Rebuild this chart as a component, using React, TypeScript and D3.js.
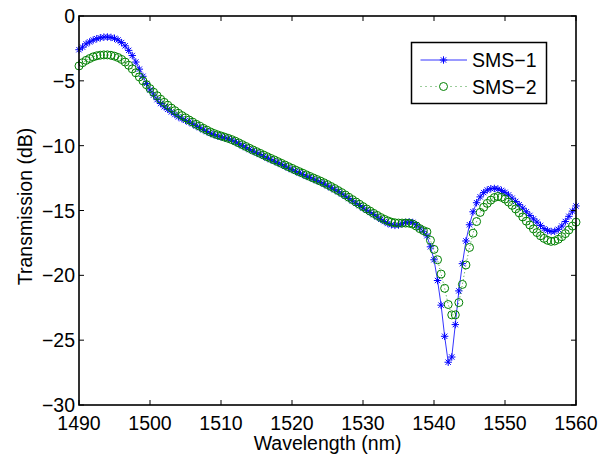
import React from "react";
import * as d3 from "d3";

const wavelengths: number[] = d3.range(1490, 1560.001, 0.5);

const sms1: number[] = [
  -2.60, -2.40, -2.15, -2.00, -1.85, -1.75, -1.68, -1.63, -1.62, -1.65,
  -1.72, -1.85, -2.05, -2.30, -2.65, -3.05, -3.55, -4.10, -4.65, -5.20,
  -5.70, -6.10, -6.45, -6.75, -7.00, -7.20, -7.40, -7.60, -7.78, -7.92,
  -8.05, -8.18, -8.32, -8.48, -8.62, -8.78, -8.92, -9.05, -9.15, -9.25,
  -9.32, -9.40, -9.48, -9.58, -9.70, -9.85, -10.00, -10.15, -10.30, -10.42,
  -10.55, -10.68, -10.82, -10.95, -11.08, -11.20, -11.32, -11.45, -11.58, -11.72,
  -11.85, -11.98, -12.10, -12.22, -12.35, -12.45, -12.58, -12.70, -12.82, -12.95,
  -13.10, -13.25, -13.40, -13.55, -13.72, -13.90, -14.08, -14.25, -14.45, -14.62,
  -14.80, -14.98, -15.15, -15.32, -15.50, -15.68, -15.85, -16.00, -16.10, -16.15,
  -16.12, -16.02, -15.92, -15.88, -15.92, -16.10, -16.35, -16.60, -16.95, -17.80,
  -18.80, -20.40, -22.30, -24.70, -26.70, -26.30, -23.80, -21.20, -19.10, -17.35,
  -16.10, -15.10, -14.40, -13.95, -13.62, -13.42, -13.32, -13.30, -13.34, -13.45,
  -13.60, -13.80, -14.05, -14.30, -14.55, -14.82, -15.10, -15.38, -15.65, -15.90,
  -16.15, -16.40, -16.55, -16.62, -16.60, -16.45, -16.20, -15.85, -15.45, -15.05,
  -14.65,
];

const sms2: number[] = [
  -3.85, -3.60, -3.42, -3.28, -3.15, -3.07, -3.02, -3.00, -3.00, -3.03,
  -3.10, -3.20, -3.35, -3.55, -3.80, -4.08, -4.38, -4.70, -5.00, -5.30,
  -5.60, -5.88, -6.15, -6.42, -6.66, -6.88, -7.10, -7.30, -7.50, -7.68,
  -7.85, -8.02, -8.18, -8.35, -8.50, -8.66, -8.80, -8.94, -9.06, -9.16,
  -9.25, -9.34, -9.43, -9.53, -9.65, -9.78, -9.92, -10.06, -10.20, -10.33,
  -10.46, -10.59, -10.72, -10.85, -10.98, -11.10, -11.23, -11.36, -11.49, -11.62,
  -11.75, -11.88, -12.00, -12.12, -12.25, -12.37, -12.49, -12.61, -12.73, -12.86,
  -13.00, -13.15, -13.30, -13.46, -13.62, -13.80, -13.98, -14.16, -14.34, -14.52,
  -14.70, -14.88, -15.05, -15.22, -15.38, -15.54, -15.68, -15.80, -15.90, -15.95,
  -15.97, -15.97, -15.97, -15.98, -16.05, -16.20, -16.40, -16.55, -16.65, -17.30,
  -18.00, -18.80, -19.90, -21.00, -22.25, -23.05, -23.05, -22.10, -20.70, -19.20,
  -17.85, -16.75, -15.85, -15.15, -14.75, -14.45, -14.20, -14.00, -13.92, -13.98,
  -14.12, -14.35, -14.60, -14.88, -15.18, -15.50, -15.82, -16.12, -16.42, -16.70,
  -16.95, -17.15, -17.30, -17.38, -17.35, -17.22, -17.02, -16.78, -16.50, -16.20,
  -15.90,
];

const xTicks: number[] = [1490, 1500, 1510, 1520, 1530, 1540, 1550, 1560];
const yTicks: number[] = [0, -5, -10, -15, -20, -25, -30];
const seriesNames: string[] = ["SMS\u22121", "SMS\u22122"];

const W = 602;
const H = 456;
const M = { left: 79, right: 576, top: 16, bottom: 405 };
const FONT = "'Liberation Sans', Arial, Helvetica, sans-serif";
const BLUE = "#0000ff";
const GREEN = "#008000";
const FS = 19.5;

function starPath(cx: number, cy: number, s: number): string {
  const d = s * 0.72;
  return (
    `M${cx - s},${cy}L${cx + s},${cy}` +
    `M${cx},${cy - s}L${cx},${cy + s}` +
    `M${cx - d},${cy - d}L${cx + d},${cy + d}` +
    `M${cx - d},${cy + d}L${cx + d},${cy - d}`
  );
}

const fmt = (v: number) => String(v).replace("-", "\u2212");

export default function App() {
  const x = d3.scaleLinear().domain([1490, 1560]).range([M.left, M.right]);
  const y = d3.scaleLinear().domain([-30, 0]).range([M.bottom, M.top]);

  const pts1 = wavelengths.map((w, i) => [w, sms1[i]] as [number, number]);
  const pts2 = wavelengths.map((w, i) => [w, sms2[i]] as [number, number]);
  const line = d3
    .line<[number, number]>()
    .x((d) => x(d[0]))
    .y((d) => y(d[1]));

  const tickLen = 5;

  const legX = 411.5;
  const legY = 42.5;
  const legW = 135;
  const legH = 61;
  const row1 = 60;
  const row2 = 86.5;

  return (
    <svg
      width={W}
      height={H}
      style={{ position: "absolute", left: 0, top: 0, background: "#fff" }}
      fontFamily={FONT}
    >
      <rect x={0} y={0} width={W} height={H} fill="#fff" />
      <defs>
        <clipPath id="plotclip">
          <rect x={M.left - 6} y={M.top - 6} width={M.right - M.left + 12} height={M.bottom - M.top + 12} />
        </clipPath>
      </defs>

      {/* series */}
      <g clipPath="url(#plotclip)">
        <path d={line(pts1) || ""} fill="none" stroke={BLUE} strokeWidth={0.8} />
        <path
          d={pts1.map((p) => starPath(x(p[0]), y(p[1]), 3.7)).join("")}
          fill="none"
          stroke={BLUE}
          strokeWidth={1}
        />
        <path d={line(pts2) || ""} fill="none" stroke={GREEN} strokeWidth={0.8} strokeDasharray="1,2.5" />
        {pts2.map((p, i) => (
          <circle key={i} cx={x(p[0])} cy={y(p[1])} r={4} fill="none" stroke={GREEN} strokeWidth={1} />
        ))}
      </g>

      {/* axes box */}
      <rect
        x={M.left}
        y={M.top}
        width={M.right - M.left}
        height={M.bottom - M.top}
        fill="none"
        stroke="#000"
        strokeWidth={1.6}
      />

      {/* x ticks */}
      {xTicks.map((t) => (
        <g key={"x" + t}>
          <line x1={x(t)} x2={x(t)} y1={M.bottom} y2={M.bottom - tickLen} stroke="#000" strokeWidth={1} />
          <line x1={x(t)} x2={x(t)} y1={M.top} y2={M.top + tickLen} stroke="#000" strokeWidth={1} />
          <text x={x(t)} y={429.5} textAnchor="middle" fontSize={FS} fill="#000">
            {t}
          </text>
        </g>
      ))}

      {/* y ticks */}
      {yTicks.map((t) => (
        <g key={"y" + t}>
          <line x1={M.left} x2={M.left + tickLen} y1={y(t)} y2={y(t)} stroke="#000" strokeWidth={1} />
          <line x1={M.right} x2={M.right - tickLen} y1={y(t)} y2={y(t)} stroke="#000" strokeWidth={1} />
          <text x={75} y={y(t)} dy="0.36em" textAnchor="end" fontSize={FS} fill="#000">
            {fmt(t)}
          </text>
        </g>
      ))}

      {/* axis labels */}
      <text x={(M.left + M.right) / 2} y={449.5} textAnchor="middle" fontSize={FS} fill="#000">
        Wavelength (nm)
      </text>
      <text
        transform={`translate(32, ${(M.top + M.bottom) / 2 - 4}) rotate(-90)`}
        textAnchor="middle"
        fontSize={FS}
        fill="#000"
      >
        Transmission (dB)
      </text>

      {/* legend */}
      <rect x={legX} y={legY} width={legW} height={legH} fill="#fff" stroke="#000" strokeWidth={1.5} />
      <line x1={420.5} x2={467} y1={row1} y2={row1} stroke={BLUE} strokeWidth={0.8} />
      <path d={starPath(443.5, row1, 3.7)} fill="none" stroke={BLUE} strokeWidth={1} />
      <line x1={420.5} x2={467} y1={row2} y2={row2} stroke={GREEN} strokeWidth={0.8} strokeDasharray="1,4" />
      <circle cx={443.5} cy={row2} r={4} fill="#fff" stroke={GREEN} strokeWidth={1} />
      <text x={472} y={row1} dy="0.36em" fontSize={FS} fill="#000">
        {seriesNames[0]}
      </text>
      <text x={472} y={row2} dy="0.36em" fontSize={FS} fill="#000">
        {seriesNames[1]}
      </text>
    </svg>
  );
}
